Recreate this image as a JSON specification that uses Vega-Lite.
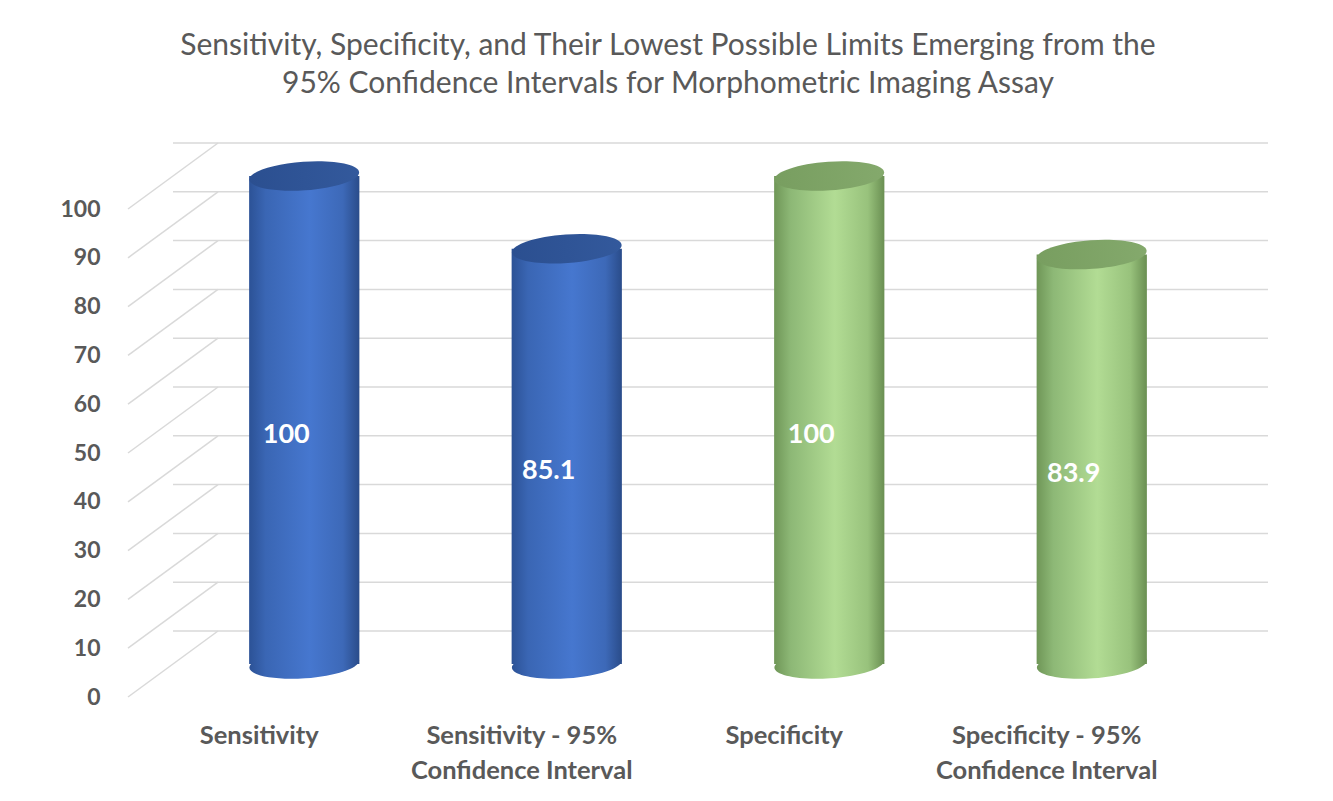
{
  "$schema": "https://vega.github.io/schema/vega-lite/v6.json",
  "width": 1050,
  "height": 488,
  "autosize": {"type": "none"},
  "padding": {"left": 173, "top": 176, "right": 110, "bottom": 137},
  "background": "white",
  "title": {
    "text": ["Sensitivity, Specificity, and Their Lowest Possible Limits Emerging from the", "95% Confidence Intervals for Morphometric Imaging Assay"],
    "font": "Lato",
    "fontSize": 30,
    "fontWeight": "normal",
    "color": "#595959",
    "lineHeight": 38,
    "anchor": "middle",
    "baseline": "bottom",
    "dx": -30,
    "offset": 13
  },
  "config": {"view": {"stroke": null}, "font": "Lato"},
  "datasets": {
    "bars": [
      {"category": "Sensitivity", "group": "Sensitivity", "value": 100},
      {"category": "Sensitivity - 95% Confidence Interval", "group": "Sensitivity", "value": 85.1},
      {"category": "Specificity", "group": "Specificity", "value": 100},
      {"category": "Specificity - 95% Confidence Interval", "group": "Specificity", "value": 83.9}
    ],
    "ticks": [{"v": 0}, {"v": 10}, {"v": 20}, {"v": 30}, {"v": 40}, {"v": 50}, {"v": 60}, {"v": 70}, {"v": 80}, {"v": 90}, {"v": 100}]
  },
  "layer": [
    {
      "layer": [
        {
          "data": {"name": "ticks"},
          "mark": {"type": "rule", "stroke": "#d9d9d9", "strokeWidth": 1.5, "yOffset": -33, "xOffset": 45, "x2Offset": 45},
          "encoding": {
            "y": {
              "field": "v", "type": "quantitative", "scale": {"domain": [0, 100]},
              "axis": {
                "title": null, "domain": false, "ticks": false, "grid": false,
                "values": [0, 10, 20, 30, 40, 50, 60, 70, 80, 90, 100],
                "labelOffset": 33, "labelPadding": 73, "labelFont": "Lato", "labelFontSize": 23,
                "labelFontWeight": "bold", "labelColor": "#595959"
              }
            }
          }
        },
        {
          "data": {"name": "ticks"},
          "mark": {"type": "rule", "stroke": "#d9d9d9", "strokeWidth": 1.5, "xOffset": -45, "x2Offset": 45, "yOffset": 33, "y2Offset": -33},
          "encoding": {
            "x": {"value": 0},
            "x2": {"value": 0},
            "y": {"field": "v", "type": "quantitative"},
            "y2": {"field": "v"}
          }
        },
        {
          "data": {"name": "bars"},
          "transform": [{"filter": "datum.group == 'Sensitivity'"}],
          "mark": {"type": "point", "filled": true, "opacity": 1, "size": 12100, "angle": -4,
            "shape": "M-1,0A1,0.26,0,1,0,1,0A1,0.26,0,1,0,-1,0Z",
            "color": {"gradient": "linear", "x1": 0, "x2": 1, "y1": 0, "y2": 0,
              "stops": [{"offset": 0, "color": "#2c5296"}, {"offset": 0.15, "color": "#3a66b4"}, {"offset": 0.55, "color": "#4677cf"}, {"offset": 0.85, "color": "#3d69b8"}, {"offset": 1, "color": "#2a4c8a"}]}},
          "encoding": {
            "x": {
              "field": "category", "type": "nominal", "sort": null,
              "scale": {"paddingInner": 0.58, "paddingOuter": 0.29},
              "axis": {
                "title": null, "domain": false, "ticks": false, "labelAngle": 0, "labelAlign": "center",
                "labelOffset": -45, "labelPadding": 59, "labelFont": "Lato", "labelFontSize": 25.5,
                "labelFontWeight": "bold", "labelColor": "#595959", "labelLineHeight": 35, "labelLimit": 500,
                "labelExpr": "split(replace(datum.value, '% ', '%|'), '|')"
              }
            },
            "y": {"datum": 0, "type": "quantitative"}
          }
        },
        {
          "data": {"name": "bars"},
          "transform": [{"filter": "datum.group == 'Specificity'"}],
          "mark": {"type": "point", "filled": true, "opacity": 1, "size": 12100, "angle": -4,
            "shape": "M-1,0A1,0.26,0,1,0,1,0A1,0.26,0,1,0,-1,0Z",
            "color": {"gradient": "linear", "x1": 0, "x2": 1, "y1": 0, "y2": 0,
              "stops": [{"offset": 0, "color": "#6f9657"}, {"offset": 0.15, "color": "#8db876"}, {"offset": 0.55, "color": "#b2dc94"}, {"offset": 0.85, "color": "#98c27c"}, {"offset": 1, "color": "#6a8f52"}]}},
          "encoding": {
            "x": {"field": "category", "type": "nominal", "sort": null},
            "y": {"datum": 0, "type": "quantitative"}
          }
        },
        {
          "data": {"name": "bars"},
          "transform": [{"filter": "datum.group == 'Sensitivity'"}],
          "mark": {"type": "bar",
            "color": {"gradient": "linear", "x1": 0, "x2": 1, "y1": 0, "y2": 0,
              "stops": [{"offset": 0, "color": "#2c5296"}, {"offset": 0.15, "color": "#3a66b4"}, {"offset": 0.55, "color": "#4677cf"}, {"offset": 0.85, "color": "#3d69b8"}, {"offset": 1, "color": "#2a4c8a"}]}},
          "encoding": {
            "x": {"field": "category", "type": "nominal", "sort": null},
            "y": {"field": "value", "type": "quantitative"}
          }
        },
        {
          "data": {"name": "bars"},
          "transform": [{"filter": "datum.group == 'Specificity'"}],
          "mark": {"type": "bar",
            "color": {"gradient": "linear", "x1": 0, "x2": 1, "y1": 0, "y2": 0,
              "stops": [{"offset": 0, "color": "#6f9657"}, {"offset": 0.15, "color": "#8db876"}, {"offset": 0.55, "color": "#b2dc94"}, {"offset": 0.85, "color": "#98c27c"}, {"offset": 1, "color": "#6a8f52"}]}},
          "encoding": {
            "x": {"field": "category", "type": "nominal", "sort": null},
            "y": {"field": "value", "type": "quantitative"}
          }
        },
        {
          "data": {"name": "bars"},
          "transform": [{"filter": "datum.group == 'Sensitivity'"}],
          "mark": {"type": "point", "filled": true, "opacity": 1, "size": 12100, "angle": -4,
            "shape": "M-1,0A1,0.26,0,1,0,1,0A1,0.26,0,1,0,-1,0Z",
            "color": {"gradient": "linear", "x1": 0, "x2": 1, "y1": 0, "y2": 0,
              "stops": [{"offset": 0, "color": "#2b4f90"}, {"offset": 1, "color": "#33599c"}]}},
          "encoding": {
            "x": {"field": "category", "type": "nominal", "sort": null},
            "y": {"field": "value", "type": "quantitative"}
          }
        },
        {
          "data": {"name": "bars"},
          "transform": [{"filter": "datum.group == 'Specificity'"}],
          "mark": {"type": "point", "filled": true, "opacity": 1, "size": 12100, "angle": -4,
            "shape": "M-1,0A1,0.26,0,1,0,1,0A1,0.26,0,1,0,-1,0Z",
            "color": {"gradient": "linear", "x1": 0, "x2": 1, "y1": 0, "y2": 0,
              "stops": [{"offset": 0, "color": "#789e60"}, {"offset": 1, "color": "#84a96c"}]}},
          "encoding": {
            "x": {"field": "category", "type": "nominal", "sort": null},
            "y": {"field": "value", "type": "quantitative"}
          }
        }
      ]
    },
    {
      "data": {"name": "bars"},
      "mark": {"type": "text", "color": "white", "font": "Lato", "fontSize": 27, "fontWeight": "bold", "dx": -18, "dy": 15, "align": "center", "baseline": "middle"},
      "encoding": {
        "x": {"field": "category", "type": "nominal", "sort": null},
        "y": {"field": "value", "type": "quantitative", "scale": {"domain": [0, 200]}, "axis": null},
        "text": {"field": "value", "type": "quantitative", "format": ".3~f"}
      }
    }
  ],
  "resolve": {"scale": {"y": "independent"}}
}
